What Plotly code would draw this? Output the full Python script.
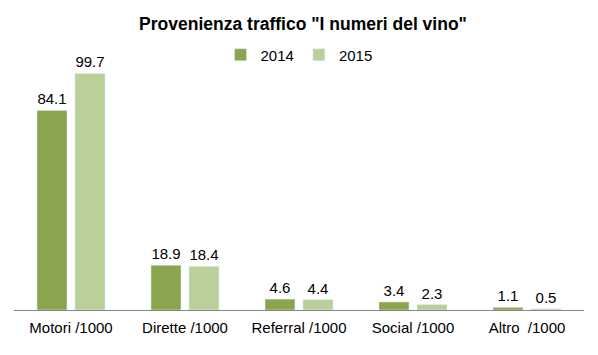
import plotly.graph_objects as go

categories = ["Motori /1000", "Dirette /1000", "Referral /1000", "Social /1000", "Altro  /1000"]
series_2014 = [84.1, 18.9, 4.6, 3.4, 1.1]
series_2015 = [99.7, 18.4, 4.4, 2.3, 0.5]
labels_2014 = ["84.1", "18.9", "4.6", "3.4", "1.1"]
labels_2015 = ["99.7", "18.4", "4.4", "2.3", "0.5"]

FONT = "Liberation Sans, Arial, sans-serif"

fig = go.Figure()
fig.add_trace(go.Bar(name="2014", x=categories, y=series_2014, text=labels_2014,
                     textposition="outside", marker_color="#8ba54f",
                     textfont=dict(size=15, color="#000000", family=FONT), cliponaxis=False))
fig.add_trace(go.Bar(name="2015", x=categories, y=series_2015, text=labels_2015,
                     textposition="outside", marker_color="#b9d09b",
                     textfont=dict(size=15, color="#000000", family=FONT), cliponaxis=False))

# the page body adds an 8px offset; figure sized so the window shows the same layout
fig.update_layout(
    width=590, height=347,
    margin=dict(l=6, r=14, t=41, b=45, autoexpand=False),
    paper_bgcolor="white", plot_bgcolor="white",
    barmode="group", bargap=0.333, bargroupgap=0.21,
    title=dict(text="<b>Provenienza traffico \"I numeri del vino\"</b>",
               x=0.5, xanchor="center", y=1 - 16 / 347, yanchor="middle",
               font=dict(size=17.5, color="#000000", family=FONT)),
    legend=dict(orientation="h", x=0.5, xanchor="center", y=1 - 6 / 261, yanchor="middle",
                font=dict(size=15, color="#000000", family=FONT),
                itemwidth=30, traceorder="normal", bgcolor="rgba(0,0,0,0)"),
    showlegend=True,
)
fig.update_xaxes(showline=True, linecolor="#868686", linewidth=1, ticks="outside",
                 ticklen=4, tickcolor="rgba(0,0,0,0)", automargin=False,
                 tickfont=dict(size=15, color="#000000", family=FONT), showgrid=False)
fig.update_yaxes(range=[0, 110], visible=False, showgrid=False)

fig.write_html("out.html")
